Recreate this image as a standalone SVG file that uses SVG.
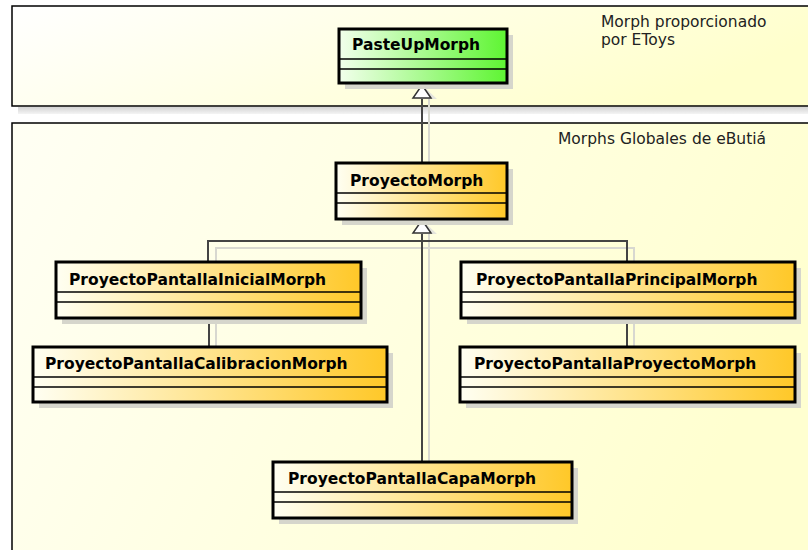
<svg xmlns="http://www.w3.org/2000/svg" width="808" height="550" viewBox="0 0 808 550">
<defs>
<linearGradient id="gPanel1" x1="0" y1="0" x2="1" y2="0.3">
<stop offset="0" stop-color="#FFFFFF"/><stop offset="1" stop-color="#FFFFCC"/>
</linearGradient>
<linearGradient id="gPanel2" x1="0" y1="0" x2="1" y2="0.3">
<stop offset="0" stop-color="#FFFFF4"/><stop offset="1" stop-color="#FFFFD0"/>
</linearGradient>
<linearGradient id="gY" x1="0" y1="0" x2="1" y2="0">
<stop offset="0" stop-color="#FFFFF2"/><stop offset="1" stop-color="#FFC828"/>
</linearGradient>
<linearGradient id="gG" x1="0" y1="0" x2="1" y2="0">
<stop offset="0" stop-color="#F2FFEC"/><stop offset="1" stop-color="#5EF532"/>
</linearGradient>
<linearGradient id="gShadowBand" x1="0" y1="0" x2="0" y2="1">
<stop offset="0" stop-color="#D4D4D4"/><stop offset="1" stop-color="#F4F4F4"/>
</linearGradient>
</defs>
<style>
.panel{stroke:#000;stroke-width:1.5}
.lbl{font-family:"DejaVu Sans","Liberation Sans",sans-serif;font-size:15.5px;fill:#222}
.node rect.box{stroke:#000;stroke-width:3}
.node rect.sh{fill:#D6D6CC;stroke:none}
.node line{stroke:#000;stroke-width:1.3}
.node text{font-family:"DejaVu Sans","Liberation Sans",sans-serif;font-weight:bold;font-size:15.5px;fill:#000}
.con{stroke:#444;stroke-width:2;fill:none}
.conSh{stroke:#D8D8D0;stroke-width:2;fill:none}
.tri{fill:#fff;stroke:#333;stroke-width:1.5}
.triSh{fill:#E4E4DC;stroke:none}
</style>
<rect x="0" y="0" width="808" height="550" fill="#FFFFFF"/>
<!-- panel 1 -->
<g id="panelEToys">
<rect x="18" y="107" width="800" height="7" fill="url(#gShadowBand)"/>
<rect class="panel" x="12" y="6" width="810" height="100" fill="url(#gPanel1)"/>
<text class="lbl" x="601" y="27">Morph proporcionado</text>
<text class="lbl" x="601" y="45">por EToys</text>
</g>
<!-- panel 2 -->
<g id="panelGlobales">
<rect x="18" y="548" width="800" height="2" fill="#D8D8D8"/>
<rect class="panel" x="12" y="123" width="810" height="460" fill="url(#gPanel2)"/>
<text class="lbl" x="558" y="144">Morphs Globales de eButiá</text>
</g>
<!-- connectors -->
<g id="connectors">
<line class="conSh" x1="429" y1="99" x2="429" y2="163"/>
<line class="con" x1="422" y1="98" x2="422" y2="163"/>
<polygon class="triSh" points="422,85 437,99 420,99"/>
<polygon class="tri" points="422,85 431,98 413,98"/>
<polyline class="conSh" points="216,263 216,248 634,248 634,263"/>
<line class="conSh" x1="429" y1="234" x2="429" y2="462"/>
<polyline class="con" points="208,263 208,241 627,241 627,263"/>
<line class="con" x1="422" y1="233" x2="422" y2="462"/>
<polygon class="triSh" points="422,220 437,234 420,234"/>
<polygon class="tri" points="422,220 431,233 413,233"/>
<line class="conSh" x1="216" y1="319" x2="216" y2="348"/>
<line class="con" x1="209" y1="319" x2="209" y2="348"/>
<line class="conSh" x1="634" y1="319" x2="634" y2="348"/>
<line class="con" x1="627" y1="319" x2="627" y2="348"/>
</g>
<g id="PasteUpMorph" class="node">
<rect class="sh" x="345" y="35" width="168" height="54"/>
<rect class="box" x="339" y="29" width="168" height="54" fill="url(#gG)"/>
<line x1="339" y1="59" x2="507" y2="59"/><line x1="339" y1="69" x2="507" y2="69"/>
<text x="352" y="50">PasteUpMorph</text>
</g>
<g id="ProyectoMorph" class="node">
<rect class="sh" x="342" y="169" width="171" height="56"/>
<rect class="box" x="336" y="163" width="171" height="56" fill="url(#gY)"/>
<line x1="336" y1="193" x2="507" y2="193"/><line x1="336" y1="203" x2="507" y2="203"/>
<text x="350" y="186">ProyectoMorph</text>
</g>
<g id="ProyectoPantallaInicialMorph" class="node">
<rect class="sh" x="62" y="268" width="305" height="56"/>
<rect class="box" x="56" y="262" width="305" height="56" fill="url(#gY)"/>
<line x1="56" y1="292" x2="361" y2="292"/><line x1="56" y1="302" x2="361" y2="302"/>
<text x="69" y="285">ProyectoPantallaInicialMorph</text>
</g>
<g id="ProyectoPantallaCalibracionMorph" class="node">
<rect class="sh" x="39" y="353" width="354" height="55"/>
<rect class="box" x="33" y="347" width="354" height="55" fill="url(#gY)"/>
<line x1="33" y1="377" x2="387" y2="377"/><line x1="33" y1="387" x2="387" y2="387"/>
<text x="45" y="369">ProyectoPantallaCalibracionMorph</text>
</g>
<g id="ProyectoPantallaPrincipalMorph" class="node">
<rect class="sh" x="467" y="268" width="334" height="56"/>
<rect class="box" x="461" y="262" width="334" height="56" fill="url(#gY)"/>
<line x1="461" y1="292" x2="795" y2="292"/><line x1="461" y1="302" x2="795" y2="302"/>
<text x="476" y="285">ProyectoPantallaPrincipalMorph</text>
</g>
<g id="ProyectoPantallaProyectoMorph" class="node">
<rect class="sh" x="466" y="353" width="335" height="55"/>
<rect class="box" x="460" y="347" width="335" height="55" fill="url(#gY)"/>
<line x1="460" y1="377" x2="795" y2="377"/><line x1="460" y1="387" x2="795" y2="387"/>
<text x="474" y="369">ProyectoPantallaProyectoMorph</text>
</g>
<g id="ProyectoPantallaCapaMorph" class="node">
<rect class="sh" x="279" y="468" width="299" height="56"/>
<rect class="box" x="273" y="462" width="299" height="56" fill="url(#gY)"/>
<line x1="273" y1="492" x2="572" y2="492"/><line x1="273" y1="502" x2="572" y2="502"/>
<text x="288" y="484">ProyectoPantallaCapaMorph</text>
</g>
</svg>
